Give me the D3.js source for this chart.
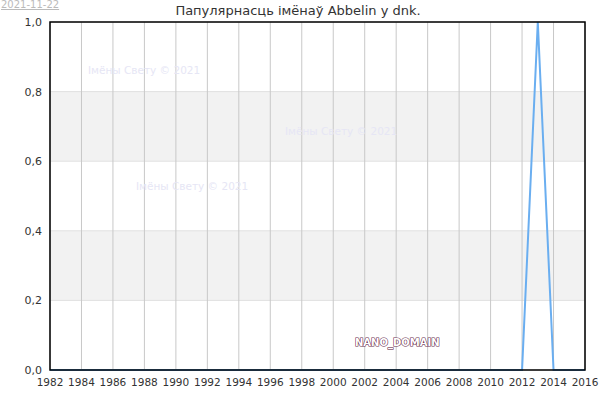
<!DOCTYPE html>
<html><head><meta charset="utf-8">
<script src="https://cdn.jsdelivr.net/npm/d3@7"></script>
<style>body{margin:0;background:#fff;font-family:"DejaVu Sans",sans-serif}</style>
</head><body><svg width="600" height="400"></svg>
<script>
var years = d3.range(1982, 2017);
var values = [0,0,0,0,0,0,0,0,0,0,0,0,0,0,0,0,0,0,0,0,0,0,0,0,0,0,0,0,0,0,0,1,0,0,0];
var yTicks = [0, 0.2, 0.4, 0.6, 0.8, 1.0];
var bands = [[0.2, 0.4], [0.6, 0.8]];
var marks = [[88, 74, "Імёны Свету © 2021"], [285, 135, "Імёны Свету © 2021"], [136, 190, "Імёны Свету © 2021"]];

var padL = 50, padR = 585, padT = 22, padB = 370;
var svg = d3.select("svg");
var x = d3.scaleLinear().domain([1982, 2016]).range([padL, padR]);
var y = d3.scaleLinear().domain([0, 1]).range([padB, padT]);

//bands
svg.selectAll(".band").data(bands).enter().append("rect")
  .attr("x", padL).attr("width", padR - padL)
  .attr("y", d => y(d[1])).attr("height", d => y(d[0]) - y(d[1]))
  .attr("fill", "#f2f2f2");
svg.selectAll(".hg").data(yTicks).enter().append("line")
  .attr("x1", padL).attr("x2", padR).attr("y1", d => y(d)).attr("y2", d => y(d))
  .attr("stroke", "#e0e0e0");
var xt = d3.range(1982, 2017, 2);
svg.selectAll(".vg").data(xt).enter().append("line")
  .attr("x1", d => x(d)).attr("x2", d => x(d)).attr("y1", padT).attr("y2", padB)
  .attr("stroke", "#c8c8c8");

//watermarks
svg.selectAll(".wm").data(marks).enter().append("text")
  .attr("x", d => d[0]).attr("y", d => d[1]).text(d => d[2])
  .attr("font-size", 10.5).attr("fill", "#e6e6f5");

svg.append("text").attr("x", 355).attr("y", 346).text("NANO_DOMAIN")
  .attr("font-size", 10).attr("font-weight", "bold").attr("fill", "#fff")
  .attr("stroke", "#6a3050").attr("stroke-width", 1.2).attr("paint-order", "stroke");

//line
svg.append("path").datum(years)
  .attr("d", d3.line().x(d => x(d)).y((d, i) => y(values[i])))
  .attr("fill", "none").attr("stroke", "#6aaef0").attr("stroke-width", 2);

svg.append("rect").attr("x", padL).attr("y", padT).attr("width", padR - padL).attr("height", padB - padT)
  .attr("fill", "none").attr("stroke", "#000").attr("stroke-width", 1.5);

//tick labels
svg.selectAll(".yl").data(yTicks).enter().append("text")
  .attr("x", padL - 8).attr("y", d => y(d) + 4).attr("text-anchor", "end")
  .attr("font-size", 11).attr("fill", "#333")
  .text(d => d3.format(".1f")(d).replace(".", ","));
svg.selectAll(".xl").data(xt).enter().append("text")
  .attr("x", d => x(d)).attr("y", 386).attr("text-anchor", "middle")
  .attr("font-size", 10.5).attr("fill", "#333").text(d => d);

svg.append("text").attr("x", 298).attr("y", 15).attr("text-anchor", "middle")
  .attr("font-size", 13).attr("fill", "#333").text("Папулярнасць імёнаў Abbelin у dnk.");
svg.append("text").attr("x", 1).attr("y", 8).attr("font-size", 10).attr("fill", "#bbb")
  .attr("text-decoration", "underline").text("2021-11-22");
</script></body></html>
